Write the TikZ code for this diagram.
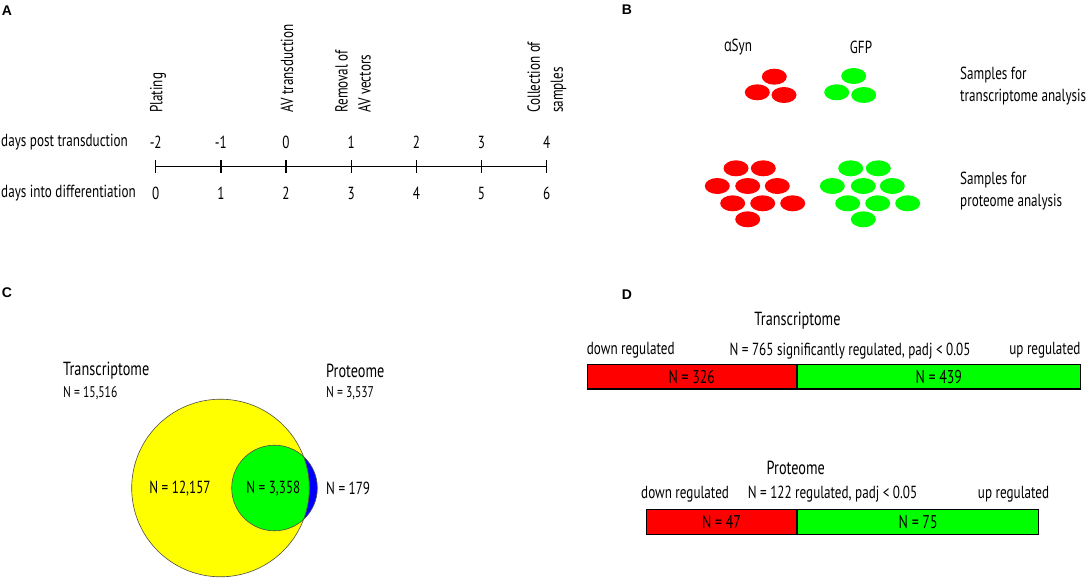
\documentclass[tikz,border=0pt]{standalone}
\usepackage{fontspec}
\setmainfont{PT Sans}[FakeStretch=0.75]
\newfontfamily\greekfont{Open Sans}[FakeStretch=0.72]
\newfontfamily\letterfont{Liberation Sans}
\usetikzlibrary{shapes.geometric}
\definecolor{cred}{RGB}{255,0,0}
\definecolor{cgreen}{RGB}{0,255,0}
\definecolor{cyellow}{RGB}{255,255,0}
\definecolor{cblue}{RGB}{0,0,255}
\tikzset{
  lbl/.style={font=\fontsize{17.5}{22}\selectfont, inner sep=0},
  hdr/.style={font=\fontsize{19}{22}\selectfont, inner sep=0},
  small/.style={font=\fontsize{15.5}{17}\selectfont, inner sep=0},
  rot/.style={font=\fontsize{17.5}{23}\selectfont, inner sep=0, rotate=90, anchor=west, align=left},
  panel/.style={font=\letterfont\bfseries\fontsize{14}{14}\selectfont, inner sep=0},
  rcell/.style={ellipse, fill=cred, minimum width=25, minimum height=16, inner sep=0},
  gcell/.style={ellipse, fill=cgreen, minimum width=25, minimum height=16, inner sep=0},
  bar/.style={draw=black, line width=1.2, minimum height=24.7, inner sep=0, anchor=west, font=\fontsize{18.5}{20}\selectfont},
  venn/.style={draw=black!70, line width=0.6},
}
\begin{document}
\begin{tikzpicture}[x=1pt,y=-1pt]
\useasboundingbox (0,0) rectangle (1086,578);
% ---------- A ----------
\node[panel] (pA) at (7,11) {A};
\node[lbl, anchor=west] (dpt) at (1,142) {days post transduction};
\node[lbl, anchor=west] (did) at (1,193) {days into differentiation};
\foreach \i/\a/\b in {0/-2/0,1/-1/1,2/0/2,3/1/3,4/2/4,5/3/5,6/4/6}{
  \coordinate (t\i) at (155.7+65.17*\i,166.5);
  \draw[line width=1.3] (155.7+65.17*\i,160) -- (155.7+65.17*\i,173);
  \node[lbl] (u\i) at (155.7+65.17*\i,142) {\a};
  \node[lbl] (l\i) at (155.7+65.17*\i,193) {\b};
}
\draw[line width=1.3] (t0) -- (t6);
\node[rot] (ev0) at (158,113) {Plating};
\node[rot] (ev2) at (287,113) {AV transduction};
\node[rot] (ev3) at (353,113) {Removal of\\AV vectors};
\node[rot] (ev6) at (547,113) {Collection of\\samples};
% ---------- B ----------
\node[panel] (pB) at (627,10) {B};
\node[lbl] (asyn) at (738,47) {{\greekfont α}Syn};
\node[lbl] (gfp) at (861,47) {GFP};
\node[rcell] (r1) at (774.3,76.7) {};
\node[rcell] (r2) at (757.3,92.3) {};
\node[rcell] (r3) at (784,95) {};
\node[gcell] (g1) at (853.7,76) {};
\node[gcell] (g2) at (836.7,92.3) {};
\node[gcell] (g3) at (863.7,95) {};
\node[lbl, anchor=west, align=left] (stx) at (960,86.5) {Samples for\\transcriptome analysis};
\foreach \x/\y [count=\k] in {736/168.3,763.3/168.3,717.3/186,747.7/186,777.3/186,732.7/203.3,762.7/203.3,792.7/203.3,747.7/219.3}{
  \node[rcell] (R\k) at (\x,\y) {};
}
\foreach \x/\y [count=\k] in {850.7/168.3,878.3/168.3,832.3/186,863.3/186,892.3/186,847.7/203.3,877.7/203.3,907.7/203.3,863.3/219.3}{
  \node[gcell] (G\k) at (\x,\y) {};
}
\node[lbl, anchor=west, align=left] (spr) at (960,190.8) {Samples for\\proteome analysis};
% ---------- C ----------
\node[panel] (pC) at (7,293) {C};
\node[hdr, anchor=west] (ctr) at (63,370.7) {Transcriptome};
\node[small, anchor=west] (ctrn) at (63,393) {N = 15,516};
\node[hdr, anchor=west] (cpr) at (326,370.7) {Proteome};
\node[small, anchor=west] (cprn) at (326,393) {N = 3,537};
\coordinate (Tc) at (220.5,488);
\coordinate (Pc) at (274.5,488);
\fill[cblue] (Pc) circle (42.8);
\fill[cyellow] (Tc) circle (88.8);
\begin{scope}
  \clip (Tc) circle (88.8);
  \fill[cgreen] (Pc) circle (42.8);
\end{scope}
\draw[venn] (Tc) circle (88.8);
\draw[venn] (Pc) circle (42.8);
\node[lbl] (c1) at (180,488.3) {N = 12,157};
\node[lbl] (c2) at (273.3,488.3) {N = 3,358};
\node[lbl, anchor=west] (c3) at (326,488.3) {N = 179};
% ---------- D ----------
\node[panel] (pD) at (627,294.5) {D};
\node[hdr] (dtr) at (797.5,320.7) {Transcriptome};
\node[lbl, anchor=west] (tdl) at (586.7,350.7) {down regulated};
\node[lbl] (tmid) at (850,350.7) {N = 765 significantly regulated, padj < 0.05};
\node[lbl, anchor=east] (tul) at (1080.7,350.7) {up regulated};
\node[bar, fill=cred, minimum width=209] (tdown) at (586.7,376.7) {N = 326};
\node[bar, fill=cgreen, minimum width=282.6] (tup) at (tdown.east) {N = 439};
\node[hdr] (dpr) at (795.8,468.3) {Proteome};
\node[lbl, anchor=west] (pdl) at (641,494.3) {down regulated};
\node[lbl] (pmid) at (832.5,494.3) {N = 122 regulated, padj < 0.05};
\node[lbl, anchor=east] (pul) at (1049.3,494.3) {up regulated};
\node[bar, fill=cred, minimum width=150.3] (pdown) at (645.7,521.8) {N = 47};
\node[bar, fill=cgreen, minimum width=240.7] (pup) at (pdown.east) {N = 75};
\end{tikzpicture}
\end{document}
